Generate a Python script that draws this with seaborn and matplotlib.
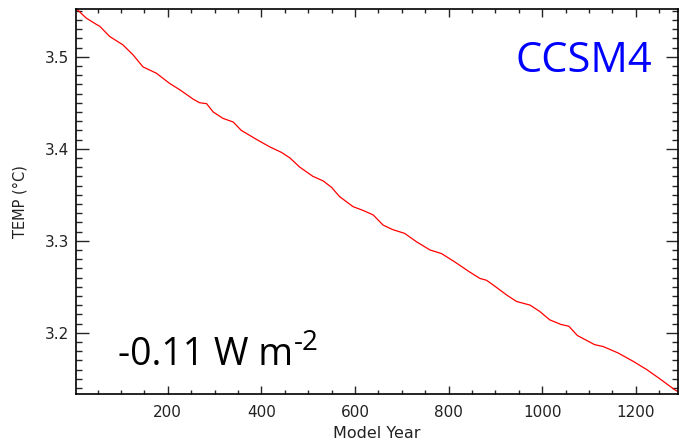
import matplotlib
matplotlib.use("Agg")
import matplotlib.pyplot as plt
from matplotlib.ticker import MultipleLocator
import pandas as pd
import seaborn as sns

# Global mean ocean temperature drift in the control run
years = [5, 26, 48, 55, 76, 104, 126, 147, 176, 204, 226, 254, 268, 283, 297,
         318, 340, 357, 390, 418, 443, 461, 482, 510, 532, 550, 567, 596, 617,
         639, 660, 681, 706, 731, 760, 785, 813, 845, 867, 881, 895, 924, 945,
         974, 995, 1016, 1040, 1057, 1075, 1112, 1130, 1162, 1194, 1223, 1251,
         1283, 1290]
temps = [3.552, 3.542, 3.535, 3.533, 3.522, 3.513, 3.502, 3.489, 3.482, 3.471,
         3.464, 3.454, 3.450, 3.449, 3.440, 3.433, 3.429, 3.420, 3.410, 3.402,
         3.396, 3.390, 3.380, 3.370, 3.365, 3.358, 3.348, 3.337, 3.333, 3.328,
         3.317, 3.312, 3.308, 3.299, 3.290, 3.286, 3.277, 3.266, 3.259, 3.257,
         3.252, 3.241, 3.234, 3.230, 3.223, 3.214, 3.209, 3.207, 3.197, 3.187,
         3.185, 3.178, 3.169, 3.160, 3.150, 3.138, 3.136]

model_name = "CCSM4"
flux_text = "-0.11 W m"
flux_exponent = "-2"
x_label = "Model Year"
y_label = "TEMP (\u00b0C)"
x_ticks = [200, 400, 600, 800, 1000, 1200]
y_ticks = [3.2, 3.3, 3.4, 3.5]

df = pd.DataFrame({"year": years, "temp": temps})

sns.set_style("white")
plt.rcParams["font.family"] = ["DejaVu Sans"]

fig = plt.figure(figsize=(6.79, 4.47), dpi=100)
ax = fig.add_axes([0.1119, 0.1186, 0.8866, 0.8613])

sns.lineplot(data=df, x="year", y="temp", ax=ax, color="#ff0000",
             linewidth=0.9, estimator=None)

ax.set_xlim(4, 1290)
ax.set_ylim(3.1334, 3.5519)
ax.set_xticks(x_ticks)
ax.set_yticks(y_ticks)
ax.set_xticklabels([str(v) for v in x_ticks])
ax.set_yticklabels([f"{v:.1f}" for v in y_ticks])
ax.xaxis.set_minor_locator(MultipleLocator(50))
ax.yaxis.set_minor_locator(MultipleLocator(0.01))

for s in ax.spines.values():
    s.set_visible(True)
    s.set_color("black")
    s.set_linewidth(1.2)

ax.tick_params(axis="x", which="major", direction="in", length=5.8, width=1,
               top=True, bottom=True, pad=8, labelsize=11, labelcolor="#222222")
ax.tick_params(axis="x", which="minor", direction="in", length=3.0, width=1,
               top=True, bottom=True)
ax.tick_params(axis="y", which="major", direction="in", length=9.0, width=1,
               left=True, right=True, pad=5, labelsize=11, labelcolor="#222222")
ax.tick_params(axis="y", which="minor", direction="in", length=4.3, width=1,
               left=True, right=True)

ax.set_xlabel(x_label, fontsize=11.5, color="#222222", labelpad=4)
ax.set_ylabel(y_label, fontsize=10.5, color="#222222", labelpad=12)

ax.text(0.957, 0.864, model_name, transform=ax.transAxes, ha="right",
        va="center", color="#0000ff", fontsize=30, family="Open Sans")
flux = ax.text(0.07, 0.10, flux_text, transform=ax.transAxes, ha="left",
               va="center", color="black", fontsize=27, family="Open Sans")
ax.annotate(flux_exponent, xy=(1.005, 0.82), xycoords=flux, ha="left",
            va="center", color="black", fontsize=20, family="Open Sans")

fig.savefig("out.png", dpi=100)
